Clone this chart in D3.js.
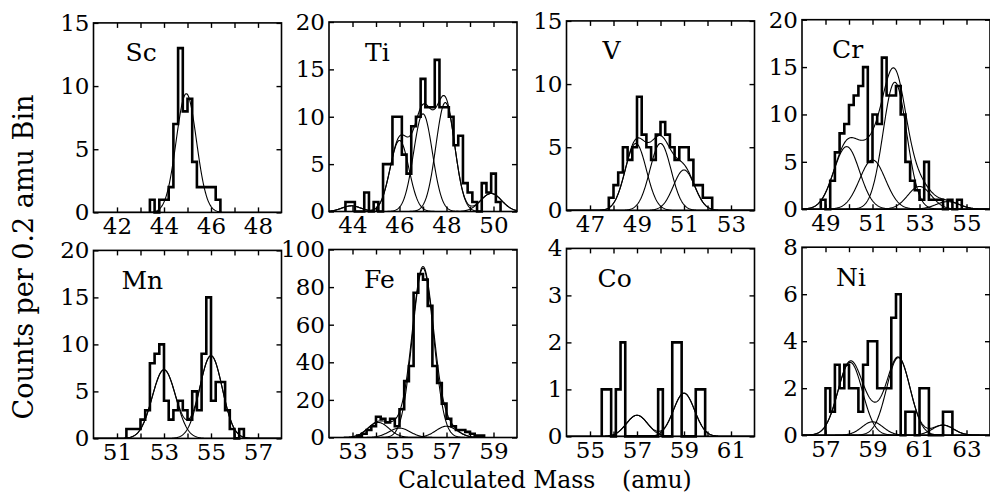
<!DOCTYPE html>
<html>
<head>
<meta charset="utf-8">
<script src="https://cdn.jsdelivr.net/npm/d3@7"></script>
<style>
body { margin: 0; background: #fff; }
text { font-family: "DejaVu Serif", serif; fill: #000; }
</style>
</head>
<body>
<div id="chart"></div>
<script>
// one panel per element, mass in amu, counts per 0.2 amu bin
var elements = ["Sc", "Ti", "V", "Cr", "Mn", "Fe", "Co", "Ni"];
var massMin = [41, 43, 46, 48, 50, 52, 54, 56];
var massSpan = 8;
var countMax = [15, 20, 15, 20, 20, 100, 4, 8];
var countStep = [5, 5, 5, 5, 5, 20, 1, 2];
var binWidth = 0.2;
var binStart = [43.4, 43.7, 47.8, 48.8, 51.4, 53.2, 55.5, 57.0];

var scCounts = [1, 0, 1, 1, 2, 7, 13, 8, 9, 4, 2, 2, 2, 2, 1];
var tiCounts = [1, 1, 0, 0, 2, 0, 1, 0, 5, 5, 10, 10, 6, 4, 9, 10, 14, 11, 11, 16, 11, 11, 10, 7, 8, 3, 2, 1, 0, 3, 2, 4, 1];
var vCounts = [1, 2, 3, 5, 4, 5, 9, 6, 5, 4, 6, 7, 6, 5, 4, 5, 5, 4, 2, 2, 1, 1];
var crCounts = [1, 0, 3, 6, 8, 9, 11, 12, 13, 15, 5, 10, 9, 16, 12, 12, 13, 10, 5, 3, 2, 1, 5, 1, 1, 1, 0, 1, 0, 1];
var mnCounts = [1, 1, 1, 2, 3, 8, 9, 10, 4, 2, 3, 4, 3, 2, 5, 3, 9, 15, 4, 6, 6, 3, 1, 0, 1];
var feCounts = [1, 2, 4, 6, 11, 10, 8, 10, 6, 15, 30, 38, 77, 87, 84, 70, 38, 29, 18, 10, 6, 4, 4, 3, 2, 1, 1];
var coCounts = [1, 1, 0, 1, 2, 0, 0, 0, 0, 0, 0, 0, 1, 0, 0, 2, 2, 0, 0, 0, 1, 1];
var niCounts = [2, 1, 3, 2, 3, 2, 2, 1, 3, 4, 4, 2, 2, 2, 5, 6, 0, 1, 1, 0, 2, 2, 0, 0, 0, 1, 1];
var counts = [scCounts, tiCounts, vCounts, crCounts, mnCounts, feCounts, coCounts, niCounts];

// fitted gaussian components: [centre mass, height, sigma]
var scPeaks = [[44.95, 9.4, 0.43]];
var tiPeaks = [[43.95, 0.6, 0.4], [46.0, 7.5, 0.4], [47.0, 10.3, 0.4], [47.95, 11.5, 0.4], [49.9, 1.9, 0.45]];
var vPeaks = [[48.95, 5.3, 0.45], [50.0, 5.3, 0.45], [51.0, 3.2, 0.45]];
var crPeaks = [[49.9, 6.6, 0.55], [51.0, 5.2, 0.55], [51.95, 13.4, 0.5], [53.0, 2.4, 0.5], [54.2, 0.8, 0.5]];
var mnPeaks = [[53.0, 7.3, 0.5], [55.0, 8.8, 0.48]];
var fePeaks = [[54.1, 8, 0.45], [55.0, 5, 0.45], [56.0, 90, 0.45], [57.0, 6, 0.45]];
var coPeaks = [[57.0, 0.45, 0.45], [59.0, 0.92, 0.45]];
var niPeaks = [[58.05, 3.1, 0.52], [59.0, 0.57, 0.45], [60.1, 3.3, 0.5], [62.0, 0.43, 0.45]];
var peaks = [scPeaks, tiPeaks, vPeaks, crPeaks, mnPeaks, fePeaks, coPeaks, niPeaks];

var W = 990, H = 497;
var panelLeft = [93.5, 329, 566.5, 802], panelWidth = 188;
var panelTop = [21.5, 249], panelHeight = [189.5, 188];
var colDy = [1.4, 0.5, -0.6, -1.8];   // the scanned page sits slightly askew
var labelDx = [32, 36, 36, 30, 28, 35, 31, 34];

var svg = d3.select("#chart").append("svg")
    .attr("width", W)
    .attr("height", H);

function gauss(p, m) {
    var z = (m - p[0]) / p[2];
    return p[1] * Math.exp(-0.5 * z * z);
}

elements.forEach(function(name, k) {
    var col = k % 4, row = Math.floor(k / 4);
    var w = panelWidth, h = panelHeight[row];
    var lo = massMin[k], hi = massMin[k] + massSpan;

    var g = svg.append("g")
        .attr("transform", "translate(" + panelLeft[col] + "," + (panelTop[row] + colDy[col]) + ")");

    var x = d3.scaleLinear().domain([lo, hi]).range([0, w]);
    var y = d3.scaleLinear().domain([0, countMax[k]]).range([h, 0]);

    g.append("clipPath").attr("id", "clip" + k)
      .append("rect").attr("width", w).attr("height", h);

    // fit curves
    var masses = d3.range(lo, hi + 0.001, 0.02);
    var line = d3.line()
        .x(function(d) { return x(d[0]); })
        .y(function(d) { return y(d[1]); });
    var fits = g.append("g").attr("clip-path", "url(#clip" + k + ")");
    peaks[k].forEach(function(p) {
        fits.append("path")
            .datum(masses.map(function(m) { return [m, gauss(p, m)]; }))
            .attr("d", line)
            .attr("fill", "none")
            .attr("stroke", "#000")
            .attr("stroke-width", 1.1);
    });
    if (peaks[k].length > 1) {
        fits.append("path")
            .datum(masses.map(function(m) {
                return [m, d3.sum(peaks[k], function(p) { return gauss(p, m); })];
            }))
            .attr("d", line)
            .attr("fill", "none")
            .attr("stroke", "#000")
            .attr("stroke-width", 1.1);
    }

    // histogram
    var c = counts[k], s = binStart[k];
    var steps = [[s, 0]]
        .concat(c.map(function(v, i) { return [s + i * binWidth, v]; }))
        .concat([[s + c.length * binWidth, 0]]);
    g.append("path")
        .datum(steps)
        .attr("d", d3.line()
            .x(function(d) { return x(d[0]); })
            .y(function(d) { return y(d[1]); })
            .curve(d3.curveStepAfter))
        .attr("fill", "none")
        .attr("stroke", "#000")
        .attr("stroke-width", 2.6)
        .attr("stroke-linejoin", "miter");

    // axes, ticks pointing inward
    var xt = d3.range(lo + 1, hi, 1);
    var yt = d3.range(0, countMax[k] + countStep[k] / 2, countStep[k]);
    var bottom = g.append("g")
        .attr("transform", "translate(0," + h + ")")
        .call(d3.axisBottom(x).tickValues(xt).tickSize(-5).tickPadding(5)
            .tickFormat(function(d) { return (d - lo) % 2 == 1 ? d : ""; }));
    var top = g.append("g")
        .call(d3.axisTop(x).tickValues(xt).tickSize(-5).tickFormat(""));
    var left = g.append("g")
        .call(d3.axisLeft(y).tickValues(yt).tickSize(-5).tickPadding(4)
            .tickFormat(d3.format("d")));
    var right = g.append("g")
        .attr("transform", "translate(" + w + ",0)")
        .call(d3.axisRight(y).tickValues(yt).tickSize(-5).tickFormat(""));
    [bottom, top, left, right].forEach(function(a) {
        a.select(".domain").remove();
        a.selectAll(".tick line").attr("stroke-width", 1.4);
        a.attr("font-family", "DejaVu Serif").attr("font-size", 23);
    });

    g.append("rect")
        .attr("width", w)
        .attr("height", h)
        .attr("fill", "none")
        .attr("stroke", "#000")
        .attr("stroke-width", 1.6);

    g.append("text")
        .attr("x", labelDx[k])
        .attr("y", 38.5)
        .attr("font-size", 25)
        .text(name);
});

svg.append("text")
    .attr("x", 398)
    .attr("y", 488)
    .attr("font-size", 23.5)
    .text("Calculated Mass");
svg.append("text")
    .attr("x", 622)
    .attr("y", 488)
    .attr("font-size", 23.5)
    .text("(amu)");

svg.append("text")
    .attr("transform", "translate(33,257) rotate(-90)")
    .attr("text-anchor", "middle")
    .attr("font-size", 27)
    .text("Counts per 0.2 amu Bin");
</script>
</body>
</html>
